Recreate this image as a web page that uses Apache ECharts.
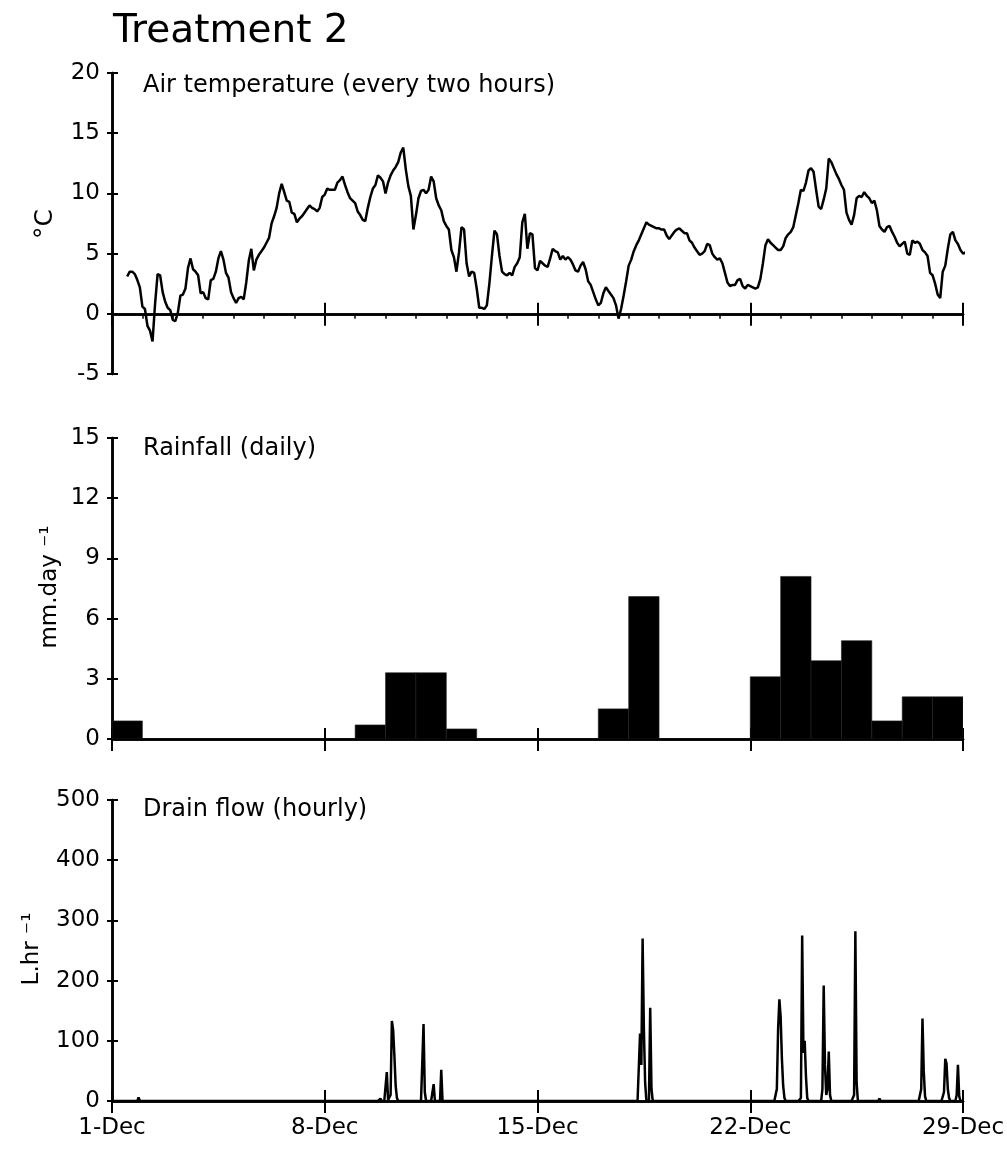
<!DOCTYPE html>
<html>
<head>
<meta charset="utf-8">
<script src="https://cdn.jsdelivr.net/npm/echarts@6/dist/echarts.min.js"></script>
<style>
  html, body { margin: 0; padding: 0; background: #fff; }
  #chart { width: 1007px; height: 1149px; }
</style>
</head>
<body>
<div id="chart"></div>
<script>
// ---- data ----
const dateLabels = ['1-Dec', '8-Dec', '15-Dec', '22-Dec', '29-Dec'];

// Air temperature, every two hours, first reading 1-Dec 12:00 (days since 1-Dec 00:00)
const tempStartDay = 0.5;
const tempStepDays = 1 / 12;
const airTemp = [
  3.1, 3.5, 3.5, 3.3, 2.8, 2.2, 0.6, 0.4, -1.0, -1.4,
  -2.3, 0.8, 3.3, 3.2, 1.8, 1.0, 0.5, 0.3, -0.5, -0.6,
  0.1, 1.5, 1.6, 2.1, 3.8, 4.6, 3.7, 3.5, 3.2, 1.7,
  1.8, 1.3, 1.2, 2.8, 2.9, 3.5, 4.6, 5.2, 4.5, 3.4,
  3.0, 1.8, 1.3, 0.9, 1.3, 1.4, 1.2, 2.6, 4.4, 5.4,
  3.6, 4.5, 4.9, 5.2, 5.5, 5.9, 6.3, 7.5, 8.1, 8.8,
  10.0, 10.8, 10.1, 9.4, 9.3, 8.4, 8.3, 7.6, 7.9, 8.1,
  8.4, 8.7, 9.0, 8.8, 8.7, 8.5, 8.8, 9.7, 9.9, 10.4,
  10.3, 10.3, 10.3, 10.9, 11.1, 11.4, 10.7, 10.1, 9.6, 9.4,
  9.2, 8.5, 8.2, 7.8, 7.7, 8.8, 9.7, 10.4, 10.7, 11.5,
  11.3, 11.0, 10.0, 10.9, 11.5, 11.9, 12.2, 12.6, 13.4, 13.8,
  12.0, 10.6, 9.8, 7.0, 8.2, 9.6, 10.2, 10.3, 10.0, 10.3,
  11.4, 11.0, 9.6, 9.0, 8.6, 7.7, 7.3, 7.0, 5.3, 4.7,
  3.5, 5.1, 7.2, 7.0, 4.2, 3.1, 3.5, 3.4, 2.1, 0.5,
  0.5, 0.4, 0.7, 2.5, 4.8, 6.9, 6.6, 4.8, 3.5, 3.3,
  3.2, 3.4, 3.2, 3.9, 4.2, 4.7, 7.6, 8.3, 5.4, 6.7,
  6.6, 3.8, 3.6, 4.4, 4.2, 4.0, 3.9, 4.6, 5.4, 5.2,
  5.1, 4.5, 4.8, 4.5, 4.7, 4.5, 4.1, 3.6, 3.5, 4.0,
  4.3, 3.7, 2.7, 2.4, 1.8, 1.2, 0.7, 0.9, 1.7, 2.2,
  1.9, 1.6, 1.3, 0.7, -0.4, 0.4, 1.5, 2.7, 4.0, 4.5,
  5.2, 5.7, 6.1, 6.6, 7.1, 7.6, 7.4, 7.3, 7.2, 7.1,
  7.1, 7.0, 7.0, 6.5, 6.2, 6.5, 6.8, 7.0, 7.1, 6.9,
  6.7, 6.7, 6.1, 5.9, 5.5, 5.2, 4.9, 5.0, 5.2, 5.8,
  5.7, 5.0, 4.7, 4.5, 4.6, 4.2, 3.4, 2.6, 2.3, 2.4,
  2.4, 2.8, 2.9, 2.3, 2.1, 2.4, 2.3, 2.2, 2.1, 2.2,
  2.9, 4.2, 5.7, 6.2, 5.9, 5.7, 5.5, 5.3, 5.3, 5.6,
  6.3, 6.6, 6.8, 7.2, 8.2, 9.2, 10.3, 10.2, 10.9, 11.9,
  12.1, 11.8, 10.3, 8.9, 8.7, 9.5, 10.4, 12.9, 12.6, 12.1,
  11.6, 11.2, 10.7, 10.3, 8.4, 7.8, 7.4, 8.2, 9.6, 9.8,
  9.7, 10.1, 9.8, 9.6, 9.2, 9.4, 8.6, 7.3, 7.0, 6.8,
  7.2, 7.3, 6.8, 6.4, 5.9, 5.6, 5.8, 6.0, 5.0, 4.9,
  6.1, 5.9, 6.0, 5.8, 5.3, 5.1, 4.8, 3.4, 3.2, 2.5,
  1.6, 1.3, 3.5, 4.0, 5.4, 6.6, 6.8, 6.1, 5.8, 5.3,
  5.0, 5.1, 4.3, 4.8, 4.8, 4.8
];

// Daily rainfall (mm/day), one value per day: index 0 = 1-Dec ... index 27 = 28-Dec
const rainfall = [
  0.9, 0, 0, 0, 0, 0, 0, 0, 0.7, 3.3,
  3.3, 0.5, 0, 0, 0, 0, 1.5, 7.1, 0, 0,
  0, 3.1, 8.1, 3.9, 4.9, 0.9, 2.1, 2.1
];

// Hourly drain flow (L/hr): hours since 1-Dec 00:00 with non-zero flow; all other hours read 0
const drainHoursTotal = 672;
const drainHour = [
  21, 212, 217, 218, 220, 221, 222, 223, 224, 225,
  245, 246, 247, 254, 260,
  417, 418, 419, 420, 421, 425, 426,
  525, 526, 527, 528, 529, 530, 531,
  544, 545, 546, 547, 548, 549,
  561, 562, 563, 564, 565, 566, 567,
  586, 587, 588, 606,
  639, 640, 641, 642,
  657, 658, 659, 660, 661, 667, 668, 669
];
const drainFlow = [
  6, 4, 48, 2, 10, 133, 118, 75, 25, 5,
  62, 128, 15, 28, 52,
  112, 60, 270, 120, 30, 155, 20,
  20, 120, 169, 140, 70, 25, 5,
  5, 275, 80, 100, 40, 5,
  20, 192, 60, 10, 20, 82, 10,
  10, 282, 30, 4,
  20, 137, 50, 8,
  15, 70, 62, 20, 5, 10, 60, 8
];

// ---- build series data ----
const tempData = airTemp.map((v, k) => [tempStartDay + k * tempStepDays, v]);

const rainData = rainfall.map((v, i) => [i, v]);

const drainByHour = {};
drainHour.forEach((h, i) => { drainByHour[h] = drainFlow[i]; });
const drainData = [];
for (let h = 0; h <= drainHoursTotal; h++) {
  drainData.push([h / 24, drainByHour[h] || 0]);
}

// ---- styling helpers ----
const FONT = 'DejaVu Sans';
const BLACK = '#000';

function xAxisPair(gridIndex, showLabels, minor) {
  const base = {
    type: 'value',
    gridIndex: gridIndex,
    min: 0, max: 28, interval: 7,
    position: 'bottom',
    axisLine: { show: true, onZero: true, lineStyle: { color: BLACK, width: 2.5 } },
    splitLine: { show: false },
    axisPointer: { show: false }
  };
  const outer = Object.assign({}, base, {
    axisTick: { show: true, inside: false, length: 12, lineStyle: { color: BLACK, width: 2 } },
    minorTick: minor
      ? { show: true, splitNumber: 7, length: 5, lineStyle: { color: BLACK, width: 1.5 } }
      : { show: false },
    axisLabel: showLabels
      ? {
          show: true, margin: 16, color: BLACK, fontFamily: FONT, fontSize: 23,
          formatter: v => dateLabels[Math.round(v / 7)]
        }
      : { show: false }
  });
  const inner = Object.assign({}, base, {
    axisTick: { show: true, inside: true, length: 11, lineStyle: { color: BLACK, width: 2 } },
    minorTick: { show: false },
    axisLabel: { show: false }
  });
  return [outer, inner];
}

function yAxisPair(gridIndex, min, max, interval) {
  const base = {
    type: 'value',
    gridIndex: gridIndex,
    min: min, max: max, interval: interval,
    position: 'left',
    axisLine: { show: true, onZero: false, lineStyle: { color: BLACK, width: 2.5 } },
    splitLine: { show: false },
    axisPointer: { show: false }
  };
  const outer = Object.assign({}, base, {
    axisTick: { show: true, inside: false, length: 5, lineStyle: { color: BLACK, width: 2 } },
    axisLabel: { show: true, margin: 12, color: BLACK, fontFamily: FONT, fontSize: 23 }
  });
  const inner = Object.assign({}, base, {
    axisTick: { show: true, inside: true, length: 6, lineStyle: { color: BLACK, width: 2 } },
    axisLabel: { show: false }
  });
  return [outer, inner];
}

const gridLeft = 112, gridWidth = 851, gridHeight = 301;

const option = {
  animation: false,
  backgroundColor: '#fff',
  grid: [
    { left: gridLeft, top: 73, width: gridWidth, height: gridHeight, containLabel: false, outerBoundsMode: 'none' },
    { left: gridLeft, top: 438, width: gridWidth, height: gridHeight, containLabel: false, outerBoundsMode: 'none' },
    { left: gridLeft, top: 800, width: gridWidth, height: gridHeight, containLabel: false, outerBoundsMode: 'none' }
  ],
  xAxis: [].concat(
    xAxisPair(0, false, true),
    xAxisPair(1, false, false),
    xAxisPair(2, true, false)
  ),
  yAxis: [].concat(
    yAxisPair(0, -5, 20, 5),
    yAxisPair(1, 0, 15, 3),
    yAxisPair(2, 0, 500, 100)
  ),
  series: [
    {
      name: 'Air temperature',
      type: 'line',
      xAxisIndex: 0, yAxisIndex: 0,
      data: tempData,
      showSymbol: false, symbol: 'none',
      clip: false,
      lineStyle: { color: BLACK, width: 2.5 },
      z: 5
    },
    {
      name: 'Rainfall',
      type: 'custom',
      xAxisIndex: 2, yAxisIndex: 2,
      data: rainData,
      clip: true,
      renderItem: function (params, api) {
        const day = api.value(0);
        const val = api.value(1);
        if (!val) return null;
        const topLeft = api.coord([day, val]);
        const bottomRight = api.coord([day + 1, 0]);
        return {
          type: 'rect',
          shape: {
            x: topLeft[0], y: topLeft[1],
            width: bottomRight[0] - topLeft[0],
            height: bottomRight[1] - topLeft[1]
          },
          style: { fill: BLACK, stroke: '#222', lineWidth: 0.6 }
        };
      },
      z: 5
    },
    {
      name: 'Drain flow',
      type: 'line',
      xAxisIndex: 4, yAxisIndex: 4,
      data: drainData,
      showSymbol: false, symbol: 'none',
      lineStyle: { color: BLACK, width: 2.5 },
      z: 5
    }
  ],
  graphic: [
    {
      type: 'text', x: 113, y: 31.5,
      style: { text: 'Treatment 2', fill: BLACK, font: '39px "DejaVu Sans"', textAlign: 'left', textVerticalAlign: 'middle' }
    },
    {
      type: 'text', x: 143, y: 85.5,
      style: { text: 'Air temperature (every two hours)', fill: BLACK, font: '24px "DejaVu Sans"', textAlign: 'left', textVerticalAlign: 'middle' }
    },
    {
      type: 'text', x: 143, y: 448.5,
      style: { text: 'Rainfall (daily)', fill: BLACK, font: '24px "DejaVu Sans"', textAlign: 'left', textVerticalAlign: 'middle' }
    },
    {
      type: 'text', x: 143, y: 810,
      style: { text: 'Drain flow (hourly)', fill: BLACK, font: '24px "DejaVu Sans"', textAlign: 'left', textVerticalAlign: 'middle' }
    },
    {
      type: 'text', x: 45, y: 224, rotation: Math.PI / 2,
      style: { text: '\u00B0C', fill: BLACK, font: '25px "DejaVu Sans"', textAlign: 'center', textVerticalAlign: 'middle' }
    },
    {
      type: 'text', x: 50, y: 587, rotation: Math.PI / 2,
      style: { text: 'mm.day \u207B\u00B9', fill: BLACK, font: '23px "DejaVu Sans"', textAlign: 'center', textVerticalAlign: 'middle' }
    },
    {
      type: 'text', x: 32, y: 949, rotation: Math.PI / 2,
      style: { text: 'L.hr \u207B\u00B9', fill: BLACK, font: '23px "DejaVu Sans"', textAlign: 'center', textVerticalAlign: 'middle' }
    }
  ]
};

const chart = echarts.init(document.getElementById('chart'), null, { renderer: 'canvas' });
chart.setOption(option);
</script>
</body>
</html>
